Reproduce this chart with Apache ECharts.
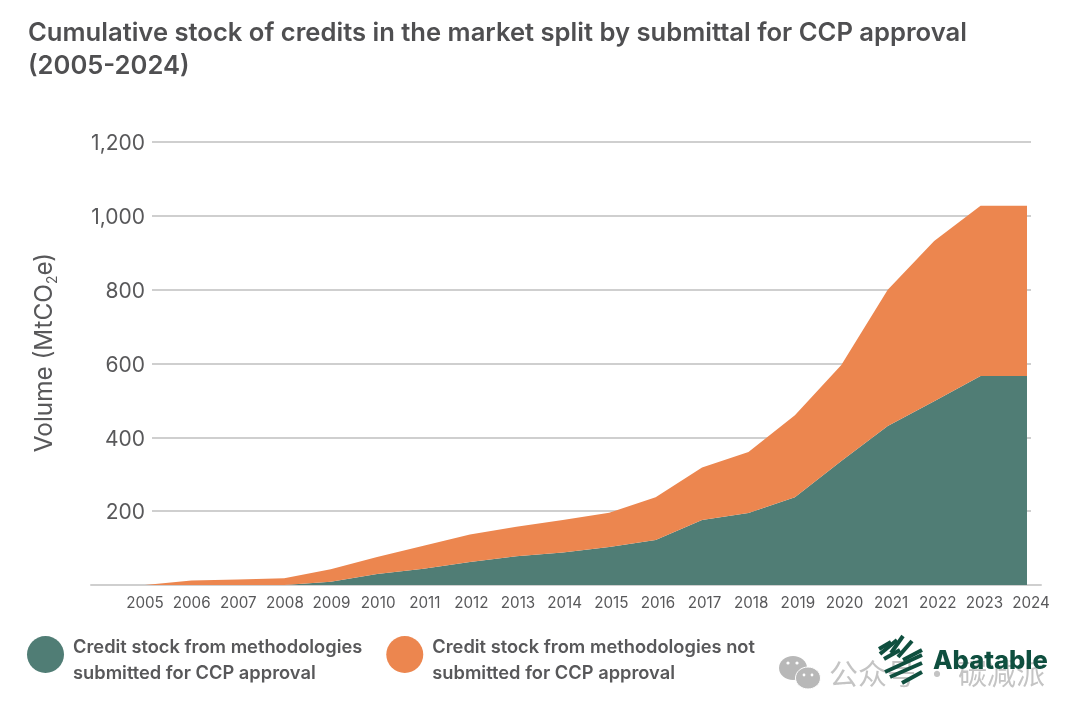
<!DOCTYPE html>
<html lang="en">

<head>
    <meta charset="UTF-8">
    <title>Cumulative stock of credits</title>
    <script src="https://cdn.jsdelivr.net/npm/echarts@6/dist/echarts.min.js"></script>
    <style>
        html, body { margin: 0; background: #fff; }
        #chart { width: 1080px; height: 717px; }
    </style>
</head>

<body>
    <div id="chart"></div>
    <script>
        var years = ['2005', '2006', '2007', '2008', '2009', '2010', '2011', '2012', '2013', '2014',
            '2015', '2016', '2017', '2018', '2019', '2020', '2021', '2022', '2023', '2024'];
        var submitted = [0, 0, 0, 0, 9, 30, 44, 62, 78, 88, 103, 122, 176, 195, 238, 336, 431, 498, 566, 566];
        var notSubmitted = [0, 12, 15, 18, 34, 46, 62, 75, 80, 88, 93, 116, 142, 165, 222, 260, 369, 434, 461, 461];
        var seriesNames = ['Credit stock from methodologies\nsubmitted for CCP approval',
            'Credit stock from methodologies not\nsubmitted for CCP approval'];

        var fontName = 'Inter';
        var textColor = '#58585a';
        var gridColor = '#cfcfcf';
        var yMax = 1200;

        // 坐标系: 0 面积, 1 网格线和y轴, 2 年份标签, 3 底部轴线
        var grids = [
            { left: 145, right: 53, top: 142, bottom: 132 },
            { left: 152, right: 49, top: 142, bottom: 132 },
            { left: 145, right: 49, top: 142, bottom: 132 },
            { left: 91, right: 39, top: 142, bottom: 132 }
        ];

        var xAxes = grids.map(function (g, i) {
            return {
                type: 'category',
                gridIndex: i,
                data: years,
                boundaryGap: false,
                axisTick: { show: false },
                axisLine: { show: i === 3, onZero: false, lineStyle: { color: gridColor, width: 2 } },
                axisLabel: {
                    show: i === 2,
                    interval: 0,
                    margin: 11,
                    fontFamily: fontName,
                    fontSize: 15.2,
                    color: textColor
                }
            };
        });

        var yAxes = grids.map(function (g, i) {
            var main = i === 1;
            return {
                type: 'value',
                gridIndex: i,
                min: 0,
                max: yMax,
                interval: 200,
                show: main,
                axisLine: { show: false },
                axisTick: { show: false },
                splitLine: { show: main, lineStyle: { color: gridColor, width: 2 } },
                axisLabel: {
                    margin: 7,
                    color: textColor,
                    formatter: function (v) {
                        return v === 0 ? '' : '{v|' + v.toLocaleString('en-US') + '}';
                    },
                    rich: {
                        v: { fontFamily: fontName, fontSize: 21, color: textColor, padding: [4, 0, 0, 0] }
                    }
                },
                name: main ? '{t|Volume (MtCO}{s|2}{t|e)}' : '',
                nameLocation: 'middle',
                nameGap: 92,
                nameRotate: 90,
                nameTextStyle: {
                    padding: [0, 0, 0, 22],
                    rich: {
                        t: { fontFamily: fontName, fontSize: 24.3, color: textColor },
                        s: { fontFamily: fontName, fontSize: 14, color: textColor, verticalAlign: 'bottom', padding: [16, 0, 0, 0] }
                    }
                }
            };
        });

        var logoBars = [
            [879, 649, 891, 642], [880, 654, 897, 640], [891, 653, 903, 636],
            [898, 657, 912, 641], [884, 659, 900, 650], [903, 660, 922, 650],
            [885, 672, 922, 655], [890, 677, 922, 663], [902, 683, 922, 672]
        ];

        var option = {
            animation: false,
            backgroundColor: '#fff',
            title: {
                text: 'Cumulative stock of credits in the market split by submittal for CCP approval\n(2005-2024)',
                left: 23,
                top: 12,
                textStyle: {
                    fontFamily: fontName,
                    fontSize: 25.6,
                    fontWeight: 600,
                    color: '#4f4f51',
                    lineHeight: 33
                }
            },
            color: ['#507d75', '#ec864f'],
            legend: {
                left: 22,
                top: 631,
                itemWidth: 37,
                itemHeight: 37,
                itemGap: 24,
                icon: 'circle',
                selectedMode: false,
                formatter: function (name) {
                    var lines = name.split('\n');
                    return '{a|' + lines[0] + '}\n{b|' + lines[1] + '}';
                },
                textStyle: {
                    padding: [0, 0, 0, 4],
                    rich: {
                        a: { fontFamily: fontName, fontSize: 18.3, fontWeight: 600, color: '#58585a', height: 26, padding: [12, 0, 0, 0] },
                        b: { fontFamily: fontName, fontSize: 18.3, fontWeight: 600, color: '#58585a', height: 26 }
                    }
                },
                data: seriesNames
            },
            grid: grids,
            xAxis: xAxes,
            yAxis: yAxes,
            series: [
                {
                    name: seriesNames[0],
                    type: 'line',
                    stack: 'credits',
                    z: 5,
                    data: submitted,
                    symbol: 'none',
                    lineStyle: { width: 0 },
                    areaStyle: { opacity: 1 }
                },
                {
                    name: seriesNames[1],
                    type: 'line',
                    stack: 'credits',
                    z: 5,
                    data: notSubmitted,
                    symbol: 'none',
                    lineStyle: { width: 0 },
                    areaStyle: { opacity: 1 }
                }
            ],
            graphic: [
                // 水印
                { type: 'ellipse', shape: { cx: 793, cy: 668, rx: 14, ry: 12 }, style: { fill: '#b8b8b8' } },
                { type: 'ellipse', shape: { cx: 808, cy: 678, rx: 12.5, ry: 11 }, style: { fill: '#b8b8b8', stroke: '#fff', lineWidth: 1 } },
                { type: 'circle', shape: { cx: 788, cy: 663, r: 1.6 }, style: { fill: '#fff' } },
                { type: 'circle', shape: { cx: 797, cy: 663, r: 1.6 }, style: { fill: '#fff' } },
                { type: 'circle', shape: { cx: 804, cy: 675, r: 1.4 }, style: { fill: '#fff' } },
                { type: 'circle', shape: { cx: 812, cy: 675, r: 1.4 }, style: { fill: '#fff' } },
                { type: 'text', x: 829, y: 659, style: { text: '公众号 · 碳减派', fontFamily: 'Noto Sans CJK SC', fontSize: 29, fill: '#c4c4c4' } },
                // logo
                {
                    type: 'group',
                    children: logoBars.map(function (b) {
                        return {
                            type: 'line',
                            shape: { x1: b[0], y1: b[1], x2: b[2], y2: b[3] },
                            style: { stroke: '#0f4f3f', lineWidth: 4 }
                        };
                    })
                },
                { type: 'text', x: 933, y: 648, style: { text: 'Abatable', fontFamily: fontName, fontWeight: 800, fontSize: 25.5, fill: '#0f4f3f' } }
            ]
        };

        var myChart = echarts.init(document.getElementById('chart'));
        myChart.setOption(option);
    </script>
</body>

</html>
